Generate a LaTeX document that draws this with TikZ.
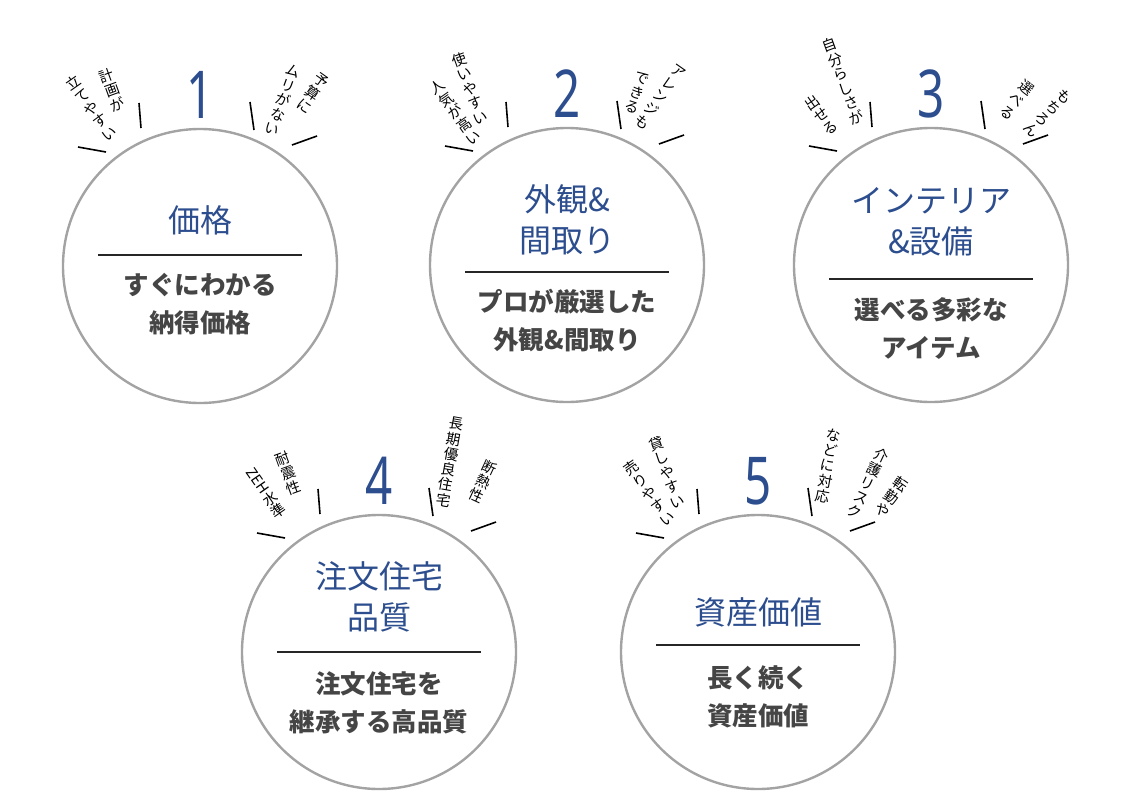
\documentclass[tikz,border=0pt]{standalone}
\usepackage{fontspec}
\setmainfont{Noto Sans CJK JP}
\newfontfamily\numfont{Noto Sans}
\definecolor{ttl}{HTML}{2D4E8E}
\definecolor{sub}{HTML}{454545}
\definecolor{ring}{HTML}{A3A3A3}
\begin{document}
\begin{tikzpicture}[x=1pt,y=-1pt,
  ringc/.style={draw=ring,line width=2.4pt,circle,minimum size=274pt,inner sep=0},
  ttlt/.style={text=ttl,font=\fontsize{32}{41}\selectfont,align=center,inner sep=0},
  subt/.style={text=sub,font=\bfseries\fontsize{25.5}{38}\selectfont,align=center,inner sep=0},
  numt/.style={text=ttl,font=\numfont\fontsize{66}{66}\selectfont,inner sep=0,xscale=0.72},
  lab/.style={font=\fontsize{14.5}{15.5}\selectfont,align=center,inner sep=0},
  tick/.style={line width=1.6pt,black},
  divl/.style={line width=1.3pt,black!85}]
\useasboundingbox (0,0) rectangle (1145,803);
\newcommand\unit[7]{%
 \begin{scope}[shift={(#1,#2)}]
  \node[ringc] (c#3) at (0,0) {};
  \node[numt] (n#3) at (0,-171) {#3};
  \coordinate (ta#3) at (-122,-119); \coordinate (tb#3) at (-94,-114);
  \coordinate (tc#3) at (-61,-163); \coordinate (td#3) at (-59,-138);
  \coordinate (te#3) at (50,-164); \coordinate (tf#3) at (54,-136);
  \coordinate (tg#3) at (92,-121); \coordinate (th#3) at (117,-130);
  \draw[tick] (ta#3) -- (tb#3); \draw[tick] (tc#3) -- (td#3);
  \draw[tick] (te#3) -- (tf#3); \draw[tick] (tg#3) -- (th#3);
  #7
 \end{scope}}
% circle 1
\unit{200}{266}{1}{}{}{}{%
  \node[ttlt] (t1) at (0,-46) {価格};
  \coordinate (d1a) at (-102,-11); \coordinate (d1b) at (102,-11);
  \draw[divl] (d1a) -- (d1b);
  \node[subt] (s1) at (0,38) {すぐにわかる\\納得価格};
  \node[lab,rotate=20] (l1a) at (-88,-176) {計\\画\\が};
  \node[lab,rotate=35] (l1b) at (-109,-158) {立\\て\\や\\す\\い};
  \node[lab,rotate=-20] (l1c) at (83,-166) {ム\\リ\\が\\な\\い};
  \node[lab,rotate=-35] (l1d) at (113,-173) {予\\算\\に};
}
% circle 2
\unit{567}{265}{2}{}{}{}{%
  \node[ttlt] (t2) at (0,-45) {外観\&\\間取り};
  \coordinate (d2a) at (-102,7); \coordinate (d2b) at (102,7);
  \draw[divl] (d2a) -- (d2b);
  \node[subt] (s2) at (0,56) {プロが厳選した\\外観\&間取り};
  \node[lab,rotate=20] (l2a) at (-97,-177) {使\\い\\や\\す\\い};
  \node[lab,rotate=35] (l2b) at (-112,-153) {人\\気\\が\\高\\い};
  \node[lab,rotate=-20] (l2c) at (70,-172) {で\\き\\る};
  \node[lab,rotate=-35] (l2d) at (93,-168) {ア\\レ\\ン\\ジ\\も};
}
% circle 3
\unit{931}{265}{3}{}{}{}{%
  \node[ttlt] (t3) at (0,-43) {インテリア\\\&設備};
  \coordinate (d3a) at (-102,14); \coordinate (d3b) at (102,14);
  \draw[divl] (d3a) -- (d3b);
  \node[subt] (s3) at (0,63) {選べる多彩な\\アイテム};
  \node[lab,rotate=20] (l3a) at (-88,-184) {自\\分\\ら\\し\\さ\\が};
  \node[lab,rotate=35] (l3b) at (-110,-150) {出\\せ\\る};
  \node[lab,rotate=-38] (l3c) at (86,-165) {選\\べ\\る};
  \node[lab,rotate=-45] (l3d) at (117,-152) {も\\ち\\ろ\\ん};
}
% circle 4
\unit{379}{652}{4}{}{}{}{%
  \node[ttlt] (t4) at (0,-55) {注文住宅\\品質};
  \coordinate (d4a) at (-102,0); \coordinate (d4b) at (102,0);
  \draw[divl] (d4a) -- (d4b);
  \node[subt] (s4) at (0,51) {注文住宅を\\継承する高品質};
  \node[lab,rotate=20] (l4a) at (-91,-179) {耐\\震\\性};
  \node[lab,rotate=35] (l4b) at (-113,-159) {\rotatebox[origin=c]{-90}{ZEH}\\水\\準};
  \node[lab,rotate=-10] (l4c) at (71,-190) {長\\期\\優\\良\\住\\宅};
  \node[lab,rotate=-25] (l4d) at (104,-170) {断\\熱\\性};
}
% circle 5
\unit{758}{652}{5}{}{}{}{%
  \node[ttlt] (t5) at (0,-40) {資産価値};
  \coordinate (d5a) at (-102,-7); \coordinate (d5b) at (102,-7);
  \draw[divl] (d5a) -- (d5b);
  \node[subt] (s5) at (0,45) {長く続く\\資産価値};
  \node[lab,rotate=20] (l5a) at (-91,-180) {貸\\し\\や\\す\\い};
  \node[lab,rotate=35] (l5b) at (-109,-159) {売\\り\\や\\す\\い};
  \node[lab,rotate=-10] (l5c) at (70,-186) {な\\ど\\に\\対\\応};
  \node[lab,rotate=-25] (l5d) at (110,-169) {介\\護\\リ\\ス\\ク};
  \node[lab,rotate=-35] (l5e) at (134,-155) {転\\勤\\や};
}
\end{tikzpicture}
\end{document}
